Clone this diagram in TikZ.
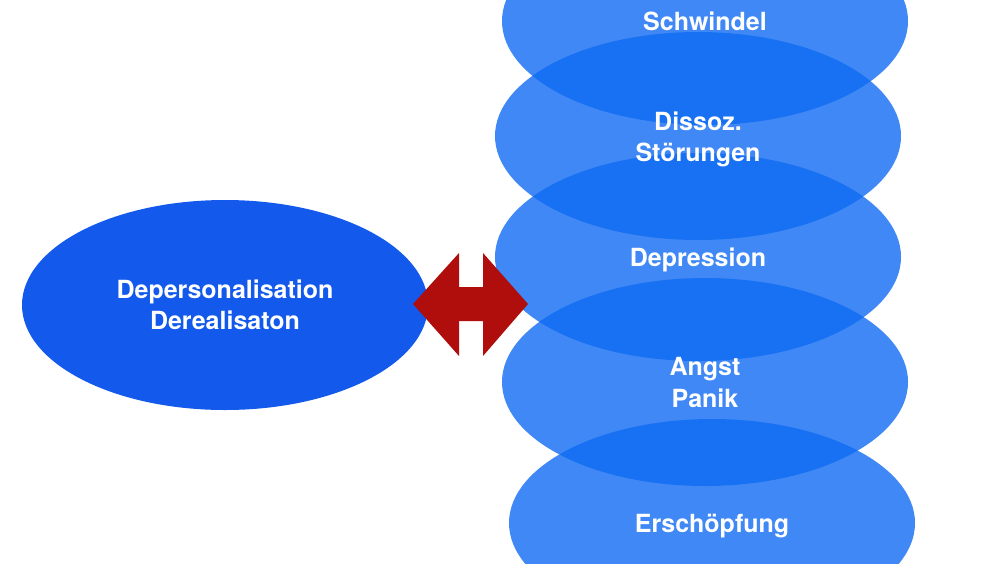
\documentclass[tikz,border=0pt]{standalone}
\usepackage{fontspec}
\setmainfont{TeX Gyre Heros}
\usetikzlibrary{shapes.geometric,calc}
\definecolor{leftblue}{RGB}{18,89,236}
\definecolor{rightblue}{RGB}{15,106,242}
\definecolor{arrowred}{RGB}{176,13,13}
\tikzset{
  lbl/.style={text=white,font=\fontsize{25}{31.5}\selectfont\bfseries,align=center,inner sep=0pt},
  mainell/.style={ellipse,fill=leftblue,minimum width=406pt,minimum height=210pt,inner sep=0pt},
  symell/.style={ellipse,fill=rightblue,fill opacity=0.8,minimum width=406pt,minimum height=208pt,inner sep=0pt},
  dblarrow/.style={fill=arrowred,draw=none}
}
\begin{document}
\begin{tikzpicture}[x=1pt,y=-1pt]
\useasboundingbox (0,0) rectangle (1000,563);
\clip (0,0) rectangle (1000,563);
\node[mainell] (dp) at (225,305) {};
\node[symell] (sw) at (705,21) {};
\node[symell] (di) at (698,136) {};
\node[symell] (an) at (705,382) {};
\node[symell] (de) at (698,257) {};
\node[symell] (er) at (712,523) {};
\node[lbl] (dpt) at ($(dp.center)+(0,0)$) {Depersonalisation\\Derealisaton};
\node[lbl] (swt) at ($(sw.center)+(0,0)$) {Schwindel};
\node[lbl] (dit) at ($(di.center)+(0,3.5)$) {Dissoz.\\Störungen};
\node[lbl] (det) at ($(de.center)+(0,3)$) {Depression};
\node[lbl] (ant) at ($(an.center)+(0,0.5)$) {Angst\\Panik};
\node[lbl] (ert) at ($(er.center)+(0,3)$) {Erschöpfung};
\coordinate (ac) at (470.5,304);
\fill[dblarrow] ($(ac)+(-57.5,0)$) -- ++(46,-51) -- ++(0,34) -- ++(24,0) -- ++(0,-34)
  -- ++(45,51) -- ++(-45,52) -- ++(0,-35) -- ++(-24,0) -- ++(0,35) -- cycle;
\end{tikzpicture}
\end{document}
